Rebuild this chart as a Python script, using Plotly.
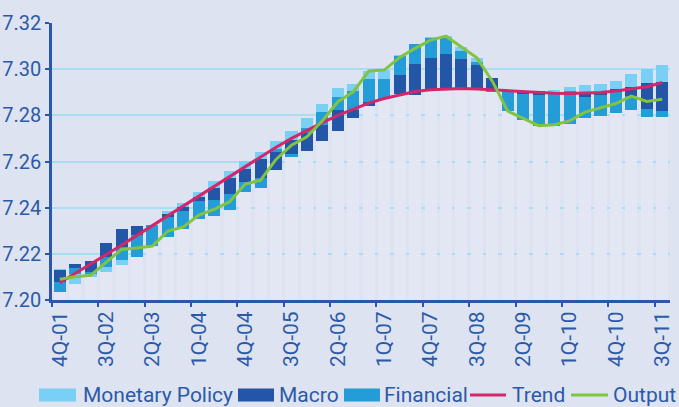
import plotly.graph_objects as go

quarters = ["4Q-01",
            "1Q-02", "2Q-02", "3Q-02", "4Q-02",
            "1Q-03", "2Q-03", "3Q-03", "4Q-03",
            "1Q-04", "2Q-04", "3Q-04", "4Q-04",
            "1Q-05", "2Q-05", "3Q-05", "4Q-05",
            "1Q-06", "2Q-06", "3Q-06", "4Q-06",
            "1Q-07", "2Q-07", "3Q-07", "4Q-07",
            "1Q-08", "2Q-08", "3Q-08", "4Q-08",
            "1Q-09", "2Q-09", "3Q-09", "4Q-09",
            "1Q-10", "2Q-10", "3Q-10", "4Q-10",
            "1Q-11", "2Q-11", "3Q-11"]

# Monetary policy contribution: lower / upper edge of each floating segment
mp_lo = [7.2130, 7.2069, 7.2100, 7.2121, 7.2152, None, None, 7.2372, 7.2404, 7.2447,
         7.2486, 7.2527, 7.2567, 7.2612, 7.2654, 7.2693, 7.2745, 7.2814, 7.2879, 7.2906,
         7.2957, 7.2957, 7.3056, None, 7.3133, 7.3137, 7.3079, 7.3032, None, None,
         None, None, 7.2902, 7.2905, 7.2902, 7.2900, 7.2913, 7.2921, 7.2939, 7.2944]
mp_hi = [7.2134, 7.2113, 7.2113, 7.2144, 7.2173, None, None, 7.2385, 7.2419, 7.2468,
         7.2515, 7.2558, 7.2602, 7.2641, 7.2688, 7.2732, 7.2789, 7.2848, 7.2918, 7.2935,
         7.2991, 7.2996, 7.3062, None, 7.3137, 7.3143, 7.3097, 7.3049, None, None,
         None, None, 7.2910, 7.2922, 7.2931, 7.2935, 7.2948, 7.2978, 7.3000, 7.3017]

# Macro contribution
macro_lo = [7.2078, 7.2137, 7.2123, 7.2188, 7.2231, 7.2281, None, 7.2361, 7.2387, 7.2429,
            7.2433, 7.2459, 7.2512, 7.2527, 7.2563, 7.2632, 7.2645, 7.2688, 7.2732, 7.2789,
            7.2841, None, 7.2892, 7.2887, 7.2916, 7.2916, 7.2916, 7.2916, 7.2909, None,
            7.2892, 7.2890, None, None, 7.2880, 7.2887, 7.2899, 7.2885, 7.2827, 7.2818]
macro_hi = [7.2130, 7.2156, 7.2169, 7.2248, 7.2307, 7.2320, None, 7.2372, 7.2404, 7.2447,
            7.2486, 7.2527, 7.2567, 7.2612, 7.2642, 7.2693, 7.2724, 7.2758, 7.2823, 7.2823,
            7.2856, None, 7.2974, 7.3022, 7.3049, 7.3065, 7.3043, 7.3017, 7.2962, None,
            7.2902, 7.2906, None, None, 7.2902, 7.2900, 7.2913, 7.2921, 7.2939, 7.2944]

# Financial contribution
fin_lo = [7.2036, 7.2113, 7.2113, 7.2144, 7.2173, 7.2188, 7.2234, 7.2274, 7.2309, 7.2352,
          7.2364, 7.2390, 7.2468, 7.2485, 7.2642, 7.2619, 7.2724, 7.2758, 7.2823, 7.2823,
          7.2856, 7.2869, 7.2974, 7.3022, 7.3049, 7.3065, 7.3043, 7.3017, 7.2899, 7.2818,
          7.2779, 7.2753, 7.2753, 7.2762, 7.2787, 7.2797, 7.2811, 7.2823, 7.2794, 7.2794]
fin_hi = [7.2078, 7.2137, 7.2123, 7.2188, 7.2231, 7.2281, 7.2325, 7.2361, 7.2387, 7.2429,
          7.2433, 7.2459, 7.2512, 7.2527, 7.2654, 7.2632, 7.2745, 7.2814, 7.2879, 7.2906,
          7.2957, 7.2957, 7.3056, 7.3111, 7.3133, 7.3137, 7.3079, 7.3032, 7.2909, 7.2909,
          7.2892, 7.2890, 7.2902, 7.2905, 7.2880, 7.2887, 7.2899, 7.2885, 7.2827, 7.2818]

trend = [7.2075, 7.2115, 7.2155, 7.2195, 7.2237, 7.2280, 7.2322, 7.2365, 7.2408, 7.2450,
         7.2492, 7.2535, 7.2577, 7.2620, 7.2662, 7.2700, 7.2735, 7.2768, 7.2800, 7.2828,
         7.2853, 7.2873, 7.2889, 7.2903, 7.2911, 7.2915, 7.2916, 7.2914, 7.2910, 7.2906,
         7.2902, 7.2898, 7.2896, 7.2895, 7.2896, 7.2899, 7.2905, 7.2913, 7.2924, 7.2942]

output = [7.2090, 7.2101, 7.2107, 7.2164, 7.2219, 7.2225, 7.2234, 7.2299, 7.2317, 7.2368,
          7.2393, 7.2426, 7.2502, 7.2519, 7.2609, 7.2671, 7.2707, 7.2776, 7.2859, 7.2902,
          7.2992, 7.2996, 7.3051, 7.3090, 7.3126, 7.3143, 7.3097, 7.3049, 7.2948, 7.2818,
          7.2787, 7.2755, 7.2759, 7.2776, 7.2814, 7.2834, 7.2851, 7.2883, 7.2860, 7.2870]

y_min, y_max, y_step = 7.20, 7.32, 0.02

# ---------------------------------------------------------------- styling
BG = "#DEE3F1"
GHOST = "#E3E7F3"
C_MP = "#79D0F4"
C_MACRO = "#2356A6"
C_FIN = "#239CD8"
C_TREND = "#D2276B"
C_OUT = "#82C341"
AXIS = "#2A57A6"
TXT = "#2B5AA8"
GRID = "#AADCF2"
FONT = "Roboto"
BAR_W = 0.78


def seg(lo, hi):
    heights = [None if (a is None or b is None) else b - a for a, b in zip(lo, hi)]
    return heights, lo


stack_bottom = []
for i in range(len(quarters)):
    lows = [v[i] for v in (mp_lo, macro_lo, fin_lo) if v[i] is not None]
    stack_bottom.append(min(lows))

fig = go.Figure()

fig.add_trace(go.Bar(x=quarters, y=[b - y_min for b in stack_bottom], base=[y_min] * len(quarters),
                     marker=dict(color=GHOST, line=dict(width=0)), width=BAR_W,
                     showlegend=False, hoverinfo="skip"))

for name, lo, hi, col in [("Monetary Policy", mp_lo, mp_hi, C_MP),
                          ("Macro", macro_lo, macro_hi, C_MACRO),
                          ("Financial", fin_lo, fin_hi, C_FIN)]:
    h, b = seg(lo, hi)
    fig.add_trace(go.Bar(x=quarters, y=h, base=b, name=name, width=BAR_W,
                         marker=dict(color=col, line=dict(width=0)), showlegend=False))

fig.add_trace(go.Scatter(x=quarters, y=trend, name="Trend", mode="lines",
                         line=dict(color=C_TREND, width=3), showlegend=False))
fig.add_trace(go.Scatter(x=quarters, y=output, name="Output", mode="lines",
                         line=dict(color=C_OUT, width=3), showlegend=False))

# ---------------------------------------------------------------- layout
W, H = 679, 407
ML, MR, MT, MB = 52, 9, 23, 107
PW, PH = W - ML - MR, H - MT - MB


def px_x(px):
    return (px - ML) / PW


def px_y(py):
    return (H - MB - py) / PH


fig.update_layout(
    width=W, height=H,
    margin=dict(l=ML, r=MR, t=MT, b=MB, pad=0, autoexpand=False),
    paper_bgcolor=BG, plot_bgcolor=BG,
    barmode="overlay", bargap=0,
    font=dict(family=FONT, color=TXT),
    showlegend=False,
)

fig.update_xaxes(
    type="category", categoryorder="array", categoryarray=quarters,
    range=[-0.5, len(quarters) - 0.5], automargin=False,
    tickmode="linear", tick0=0, dtick=3, tickson="boundaries",
    tickangle=-90, tickfont=dict(family=FONT, size=21, color=TXT),
    ticks="outside", ticklen=4, tickwidth=2, tickcolor=AXIS,
    showline=True, linecolor=AXIS, linewidth=3,
    showgrid=False, zeroline=False,
)
fig.update_yaxes(
    range=[y_min, y_max], tickmode="linear", tick0=y_min, dtick=y_step, automargin=False,
    tickformat=".2f", tickfont=dict(family=FONT, size=20, color=TXT),
    ticks="outside", ticklen=4, tickwidth=2, tickcolor=AXIS,
    showline=True, linecolor=AXIS, linewidth=2.5,
    showgrid=True, gridcolor=GRID, gridwidth=1.5, zeroline=False,
)

# ---------------------------------------------------------------- legend (drawn)
leg_y = 395
shapes = []
annots = []
legend_items = [
    ("Monetary Policy", "box", C_MP, 39, 76, 82),
    ("Macro", "box", C_MACRO, 238, 274, 278),
    ("Financial", "box", C_FIN, 344, 380, 383),
    ("Trend", "line", C_TREND, 470, 506, 511),
    ("Output", "line", C_OUT, 571, 608, 612),
]
for label, kind, col, x0, x1, tx in legend_items:
    if kind == "box":
        shapes.append(dict(type="rect", xref="paper", yref="paper",
                           x0=px_x(x0), x1=px_x(x1), y0=px_y(leg_y + 6.5), y1=px_y(leg_y - 6.5),
                           fillcolor=col, line=dict(width=0)))
    else:
        shapes.append(dict(type="line", xref="paper", yref="paper",
                           x0=px_x(x0), x1=px_x(x1), y0=px_y(leg_y), y1=px_y(leg_y),
                           line=dict(color=col, width=3)))
    annots.append(dict(text=label, xref="paper", yref="paper", x=px_x(tx), y=px_y(leg_y),
                       xanchor="left", yanchor="middle", showarrow=False, borderpad=0,
                       font=dict(family=FONT, size=21, color=TXT)))

fig.update_layout(shapes=shapes, annotations=annots)

page_fix = ("document.body.style.margin='0';document.body.style.padding='0';"
            "document.body.style.overflow='hidden';"
            "document.body.style.background='" + BG + "';")
fig.write_html("out.html", post_script=page_fix, config={"displayModeBar": False})
